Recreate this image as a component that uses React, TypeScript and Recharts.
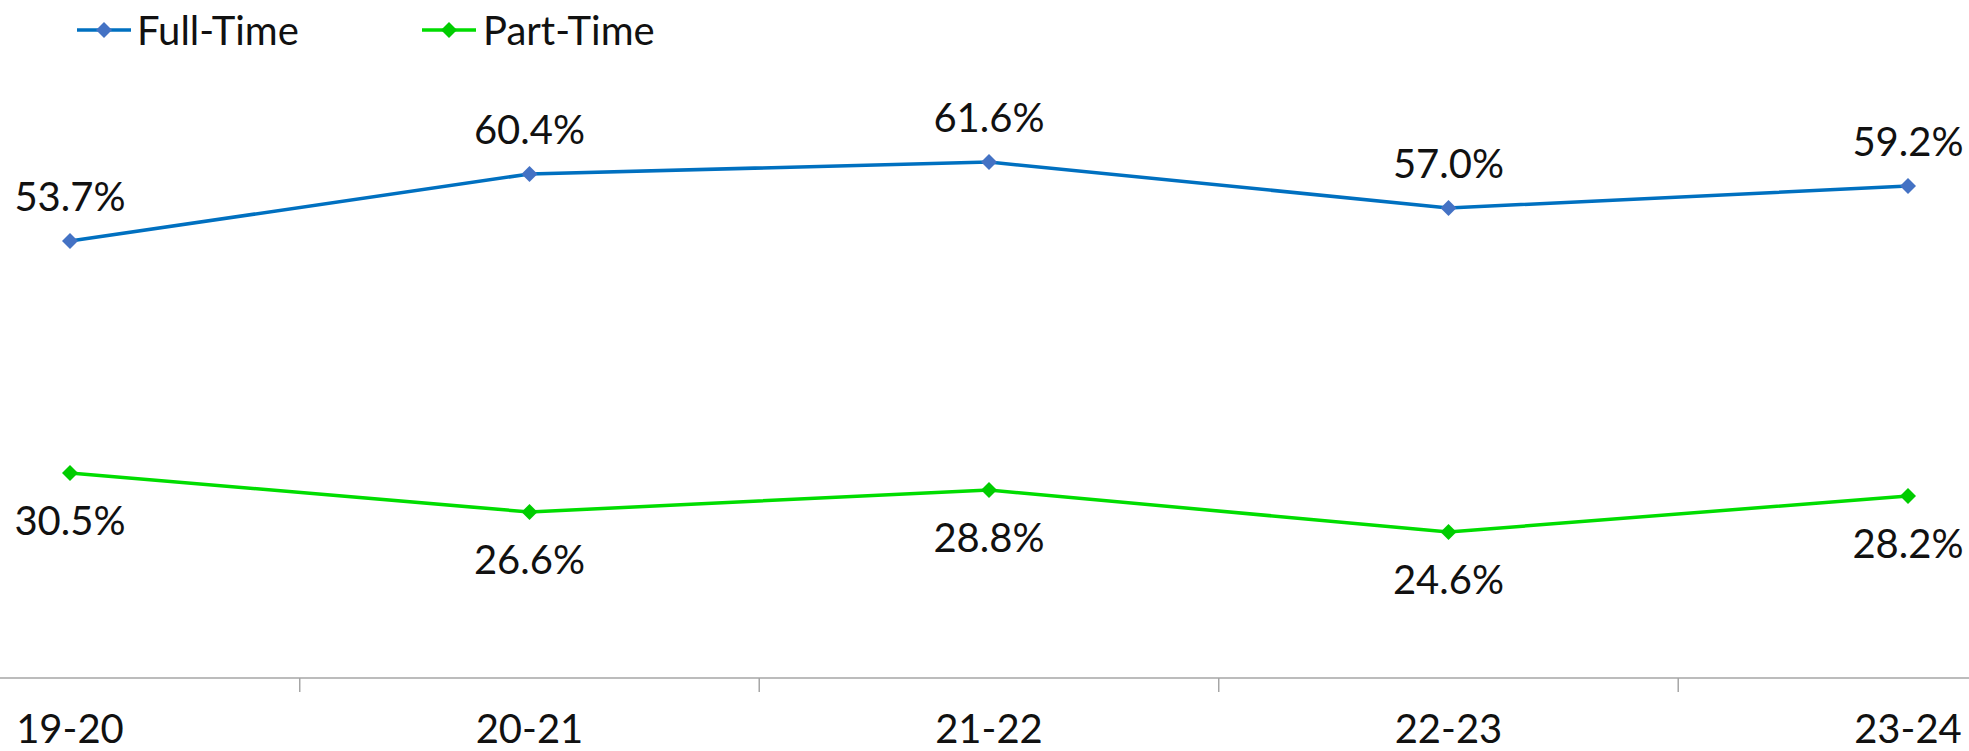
import { LineChart, Line, XAxis, YAxis, Legend, ReferenceLine } from "recharts";

const categories = ["19-20", "20-21", "21-22", "22-23", "23-24"];
const fullTime = [53.7, 60.4, 61.6, 57.0, 59.2];
const partTime = [30.5, 26.6, 28.8, 24.6, 28.2];
const seriesNames = ["Full-Time", "Part-Time"];
// tick marks sit between categories
const separatorTicks = [0.5, 1.5, 2.5, 3.5];

const FONT = "Lato, 'Open Sans', sans-serif";
const FULL_LINE = "#0070c0";
const FULL_MARK = "#4472c4";
const PART_LINE = "#00dd00";
const PART_MARK = "#00cc00";
const AXIS = "#a6a6a6";
const Y_MIN = 10;
const Y_MAX = 70;

const data = categories.map((cat, i) => ({
  idx: i,
  cat,
  full: fullTime[i],
  part: partTime[i],
}));

const diamond = (cx: number, cy: number, r: number) =>
  `M${cx},${cy - r}L${cx + r},${cy}L${cx},${cy + r}L${cx - r},${cy}Z`;

const makeDot = (color: string) => (props: any) => {
  const { cx, cy, index } = props;
  if (cx == null || cy == null) return <g key={index} />;
  return <path key={index} d={diamond(cx, cy, 8)} fill={color} />;
};

const makeLabel = (below: boolean) => (props: any) => {
  const { x, y, value, index } = props;
  return (
    <text
      key={index}
      x={x}
      y={below ? y + 62 : y - 30}
      textAnchor="middle"
      fontFamily={FONT}
      fontSize={40}
      fill="#111"
    >
      {Number(value).toFixed(1)}%
    </text>
  );
};

const LegendIcon = ({ line, mark }: { line: string; mark: string }) => (
  <svg width={54} height={18} style={{ display: "block" }}>
    <line x1={0} y1={9} x2={54} y2={9} stroke={line} strokeWidth={3.5} strokeLinecap="round" />
    <path d={diamond(27, 9, 8)} fill={mark} />
  </svg>
);

const renderLegend = () => (
  <div style={{ display: "flex", alignItems: "center", paddingLeft: 77, height: 60 }}>
    <div style={{ display: "flex", alignItems: "center", width: 345 }}>
      <LegendIcon line={FULL_LINE} mark={FULL_MARK} />
      <span style={{ marginLeft: 6, fontFamily: FONT, fontSize: 40, color: "#111" }}>
        {seriesNames[0]}
      </span>
    </div>
    <div style={{ display: "flex", alignItems: "center" }}>
      <LegendIcon line={PART_LINE} mark={PART_MARK} />
      <span style={{ marginLeft: 7, fontFamily: FONT, fontSize: 40, color: "#111" }}>
        {seriesNames[1]}
      </span>
    </div>
  </div>
);

export default function App() {
  return (
    <div style={{ width: 1969, height: 751, background: "#fff" }}>
      <style>{"body{margin:0;}"}</style>
      <LineChart
        width={1969}
        height={751}
        data={data}
        margin={{ top: 18, right: 0, bottom: 0, left: 0 }}
      >
        <Legend
          verticalAlign="top"
          align="left"
          height={60}
          content={renderLegend}
          wrapperStyle={{ top: 0, left: 0, width: 1969, height: 60 }}
        />
        <XAxis
          xAxisId="main"
          dataKey="idx"
          type="number"
          domain={[-0.1523, 4.1328]}
          ticks={[0, 1, 2, 3, 4]}
          tickFormatter={(v: number) => categories[v]}
          tickLine={false}
          tickSize={6}
          tickMargin={31}
          axisLine={{ stroke: AXIS, strokeWidth: 1.5 }}
          tick={{ fontFamily: FONT, fontSize: 40, fill: "#111" }}
          height={73}
          interval={0}
          allowDataOverflow
        />
        <YAxis hide domain={[Y_MIN, Y_MAX]} />
        {separatorTicks.map((t) => (
          <ReferenceLine
            key={t}
            xAxisId="main"
            segment={[
              { x: t, y: Y_MIN },
              { x: t, y: Y_MIN - 1.4 },
            ]}
            ifOverflow="visible"
            stroke={AXIS}
            strokeWidth={1.5}
          />
        ))}
        <Line
          xAxisId="main"
          dataKey="full"
          name={seriesNames[0]}
          stroke={FULL_LINE}
          strokeWidth={3.5}
          dot={makeDot(FULL_MARK)}
          activeDot={false}
          label={makeLabel(false)}
          isAnimationActive={false}
        />
        <Line
          xAxisId="main"
          dataKey="part"
          name={seriesNames[1]}
          stroke={PART_LINE}
          strokeWidth={3.5}
          dot={makeDot(PART_MARK)}
          activeDot={false}
          label={makeLabel(true)}
          isAnimationActive={false}
        />
      </LineChart>
    </div>
  );
}
